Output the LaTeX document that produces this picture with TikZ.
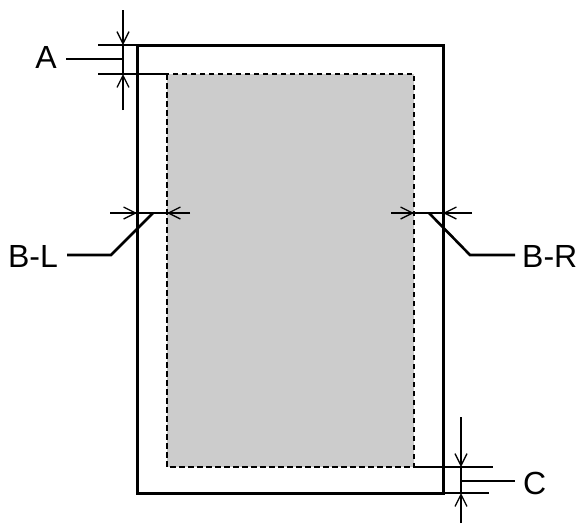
\documentclass[tikz,border=0pt]{standalone}
\usepackage{fontspec}
\setmainfont{Liberation Sans}
\usetikzlibrary{arrows.meta,positioning}

\begin{document}
\begin{tikzpicture}[x=1pt,y=-1pt,
	dimline/.style={line width=1.3pt},
	leader/.style={line width=2.6pt},
	dimarrow/.style={dimline,-{Straight Barb[length=12pt,width=12pt,line width=1.3pt]}},
	lbl/.style={font=\fontsize{32}{32}\selectfont,inner sep=0pt}]
	\useasboundingbox (0,0) rectangle (579,523);
	\coordinate (sheetTL) at (137,45);
	\coordinate (sheetBR) at (443,493);
	\coordinate (areaTL) at (167,74);
	\coordinate (areaBR) at (414,467);
	\draw [fill=gray!40, line width=2pt, dash pattern=on 5.5pt off 3.5pt] (areaTL) rectangle (areaBR);
	\draw [line width=3pt] (sheetTL) rectangle (sheetBR);
	% top margin A
	\draw [dimline] (98,45) -- (sheetTL);
	\draw [dimline] (98,74) -- (areaTL);
	\draw [dimarrow] (123,10) -- (123,45);
	\draw [dimarrow] (123,110) -- (123,74);
	\draw [dimline] (123,45) -- (123,74);
	\node [lbl] (labA) at (46,57) {A};
	\coordinate (aTip) at (123,59);
	\draw [leader] (66,59) -- (aTip);
	% side margin B-L
	\draw [dimline] (110,213) -- (190,213);
	\draw [dimarrow] (110,213) -- (137,213);
	\draw [dimarrow] (190,213) -- (167,213);
	\node [lbl, anchor=east] (labBL) at (58,256) {B-L};
	\coordinate (blKnee) at (111,255);
	\coordinate (blTip) at (153,213);
	\draw [leader] ([xshift=9pt,yshift=1pt]labBL.east) -- (blKnee) -- (blTip);
	% side margin B-R
	\draw [dimline] (391,213) -- (472,213);
	\draw [dimarrow] (391,213) -- (414,213);
	\draw [dimarrow] (472,213) -- (443,213);
	\node [lbl, anchor=west] (labBR) at (522,256) {B-R};
	\coordinate (brKnee) at (470,255);
	\coordinate (brTip) at (429,213);
	\draw [leader] ([xshift=-7pt,yshift=1pt]labBR.west) -- (brKnee) -- (brTip);
	% bottom margin C
	\draw [dimline] (areaBR) -- (493,467);
	\draw [dimline] (sheetBR) -- (489,493);
	\draw [dimarrow] (461,417) -- (461,467);
	\draw [dimarrow] (461,523) -- (461,493);
	\draw [dimline] (461,467) -- (461,493);
	\node [lbl, anchor=west] (labC) at (523,483) {C};
	\coordinate (cTip) at (461,481);
	\coordinate (cEnd) at (515,481);
	\draw [leader] (cTip) -- (cEnd);
\end{tikzpicture}
\end{document}
